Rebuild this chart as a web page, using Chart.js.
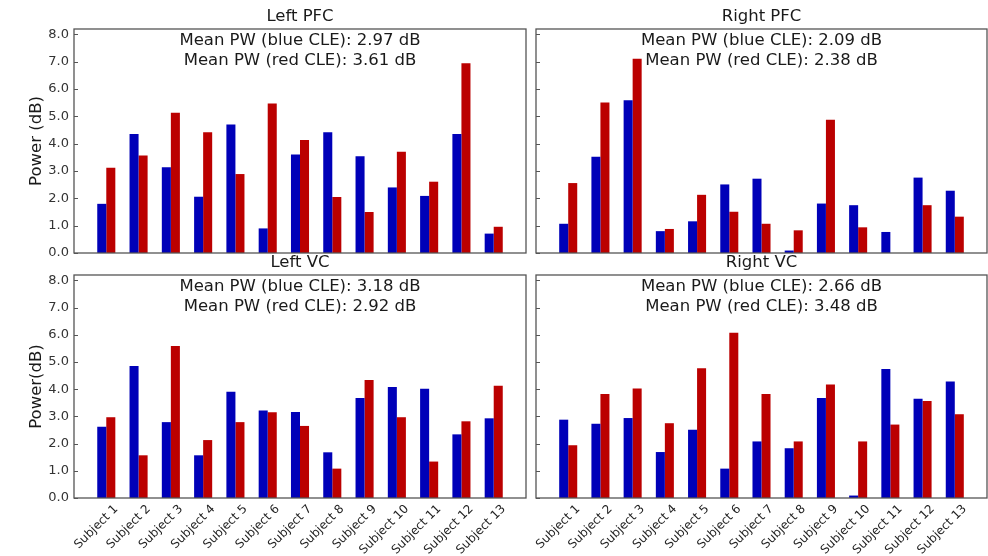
<!DOCTYPE html>
<html lang="en">
<head>
<meta charset="UTF-8" />
<title>Power per subject</title>
<script src="https://cdn.jsdelivr.net/npm/chart.js@4.4.0/dist/chart.umd.min.js"></script>
<style>
  body { margin: 0; background: #fff; }
  .wrap { position: relative; width: 988px; height: 556px; }
  canvas { position: absolute; left: 0; top: 0; }
</style>
</head>
<body>
<div class="wrap">
  <canvas id="leftPFC" width="988" height="556"></canvas>
  <canvas id="rightPFC" width="988" height="556"></canvas>
  <canvas id="leftVC" width="988" height="556"></canvas>
  <canvas id="rightVC" width="988" height="556"></canvas>
</div>
<script>
const subjects = ['Subject 1', 'Subject 2', 'Subject 3', 'Subject 4', 'Subject 5', 'Subject 6', 'Subject 7',
                  'Subject 8', 'Subject 9', 'Subject 10', 'Subject 11', 'Subject 12', 'Subject 13'];
const yTicks = [0, 1, 2, 3, 4, 5, 6, 7, 8];

const leftPfcBlue  = [1.80, 4.36, 3.14, 2.06, 4.70, 0.90, 3.61, 4.42, 3.54, 2.40, 2.09, 4.36, 0.71];
const leftPfcRed   = [3.12, 3.57, 5.13, 4.42, 2.89, 5.47, 4.14, 2.05, 1.50, 3.71, 2.61, 6.95, 0.96];
const rightPfcBlue = [1.07, 3.52, 5.59, 0.80, 1.16, 2.51, 2.72, 0.09, 1.81, 1.75, 0.77, 2.76, 2.28];
const rightPfcRed  = [2.56, 5.51, 7.11, 0.88, 2.13, 1.51, 1.07, 0.83, 4.88, 0.94, 0.00, 1.75, 1.33];
const leftVcBlue   = [2.62, 4.85, 2.79, 1.57, 3.91, 3.22, 3.16, 1.68, 3.68, 4.08, 4.02, 2.34, 2.93];
const leftVcRed    = [2.97, 1.57, 5.59, 2.13, 2.79, 3.15, 2.65, 1.08, 4.34, 2.97, 1.34, 2.82, 4.13];
const rightVcBlue  = [2.88, 2.73, 2.94, 1.69, 2.51, 1.08, 2.08, 1.83, 3.68, 0.09, 4.74, 3.65, 4.28];
const rightVcRed   = [1.94, 3.82, 4.03, 2.75, 4.77, 6.08, 3.82, 2.08, 4.17, 2.08, 2.70, 3.57, 3.08];

const panelTitles = ['Left PFC', 'Right PFC', 'Left VC', 'Right VC'];
const meanBlue = ['2.97', '2.09', '3.18', '2.66'];
const meanRed  = ['3.61', '2.38', '2.92', '3.48'];

const W = 988, H = 556;
const FONT = '"DejaVu Sans", sans-serif';

// frame, inward y ticks, panel title and the two mean lines
const panelDecor = {
  id: 'panelDecor',
  afterDraw(chart, args, opts) {
    const { ctx, chartArea: a, scales: { y } } = chart;
    ctx.save();
    ctx.strokeStyle = '#555';
    ctx.lineWidth = 1.3;
    ctx.strokeRect(a.left, a.top, a.right - a.left, a.bottom - a.top);

    ctx.lineWidth = 1;
    ctx.beginPath();
    yTicks.forEach(v => {
      const py = Math.round(y.getPixelForValue(v)) + 0.5;
      ctx.moveTo(a.left, py);
      ctx.lineTo(a.left + 4, py);
    });
    ctx.stroke();

    const cx = (a.left + a.right) / 2;
    ctx.fillStyle = '#1a1a1a';
    ctx.textAlign = 'center';
    ctx.textBaseline = 'middle';
    ctx.font = '16.5px ' + FONT;
    ctx.fillText(opts.title, cx, a.top - 12);
    opts.lines.forEach((t, i) => ctx.fillText(t, cx, a.top + 12 + i * 20));
    ctx.restore();
  }
};

function makeChart(p, k) {
  return new Chart(document.getElementById(p.id), {
    type: 'bar',
    data: {
      labels: ['', ...subjects, ''],
      datasets: [
        { data: [null, ...p.blue, null], backgroundColor: '#0000b8' },
        { data: [null, ...p.red, null], backgroundColor: '#bb0000' }
      ]
    },
    options: {
      responsive: false,
      animation: false,
      events: [],
      layout: {
        padding: {
          left: p.yTitle ? 0 : p.left,
          top: p.top,
          right: W - p.right,
          bottom: p.xLabels ? 0 : H - p.bottom
        }
      },
      datasets: { bar: { barPercentage: 1, categoryPercentage: 0.56, borderWidth: 0 } },
      plugins: {
        legend: { display: false },
        tooltip: { enabled: false },
        panelDecor: {
          title: panelTitles[k],
          lines: ['Mean PW (blue CLE): ' + meanBlue[k] + ' dB', 'Mean PW (red CLE): ' + meanRed[k] + ' dB']
        }
      },
      scales: {
        x: {
          offset: false,
          display: p.xLabels,
          grid: { display: false, drawTicks: false },
          border: { display: false },
          ticks: {
            autoSkip: false, maxRotation: 45, minRotation: 45, padding: 4, labelOffset: 10,
            font: { family: FONT, size: 12 }, color: '#222'
          },
          afterFit: s => {
            s.height = p.xLabels ? H - p.bottom : 0;
            s.paddingLeft = 0;
            s.paddingRight = 0;
          }
        },
        y: {
          display: !!p.yTitle,
          min: 0,
          max: 8.2,
          afterBuildTicks: s => { s.ticks = yTicks.map(v => ({ value: v })); },
          grid: { display: false, drawTicks: false },
          border: { display: false },
          ticks: {
            padding: 5, font: { family: FONT, size: 13 }, color: '#333',
            callback: v => Number(v).toFixed(1)
          },
          title: {
            display: !!p.yTitle, text: p.yTitle, color: '#1a1a1a',
            font: { family: FONT, size: 16.5 }, padding: { top: 27, bottom: 0 }
          },
          afterFit: s => { s.width = p.yTitle ? p.left : 0; }
        }
      }
    },
    plugins: [panelDecor]
  });
}

const panels = [
  { id: 'leftPFC',  blue: leftPfcBlue,  red: leftPfcRed,  yTitle: 'Power (dB)', xLabels: false, left: 74,  top: 29,  right: 526, bottom: 253 },
  { id: 'rightPFC', blue: rightPfcBlue, red: rightPfcRed, yTitle: '',           xLabels: false, left: 536, top: 29,  right: 987, bottom: 253 },
  { id: 'leftVC',   blue: leftVcBlue,   red: leftVcRed,   yTitle: 'Power(dB)',  xLabels: true,  left: 74,  top: 275, right: 526, bottom: 498 },
  { id: 'rightVC',  blue: rightVcBlue,  red: rightVcRed,  yTitle: '',           xLabels: true,  left: 536, top: 275, right: 987, bottom: 498 }
];

panels.forEach((p, k) => makeChart(p, k));
</script>
</body>
</html>
